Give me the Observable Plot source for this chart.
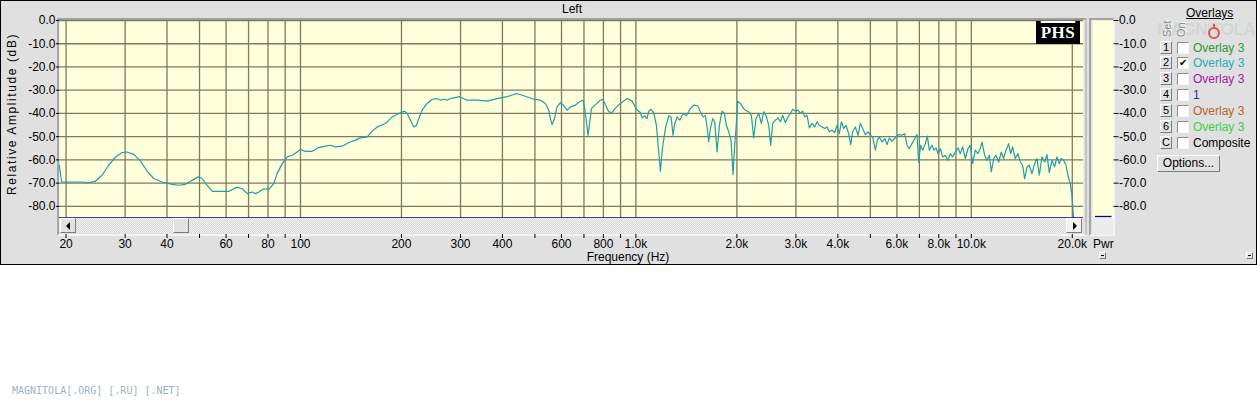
<!DOCTYPE html>
<html><head><meta charset="utf-8">
<script src="https://cdn.jsdelivr.net/npm/d3@7"></script>
<script src="https://cdn.jsdelivr.net/npm/@observablehq/plot@0.6"></script>
<style>
body{margin:0;background:#fff;font-family:"Liberation Sans",Arial,sans-serif;}
#root{position:relative;width:1257px;height:400px;overflow:hidden;}
.abs{position:absolute;}
.raised{position:absolute;box-sizing:border-box;background:#e2e2e2;border:1px solid;border-color:#fff #7c7c7c #7c7c7c #fff;}
.sunken{position:absolute;box-sizing:border-box;background:#fff;border:1px solid;border-color:#8a8a8a #f4f4f4 #f4f4f4 #8a8a8a;}
.txt{position:absolute;font-size:12px;line-height:14px;white-space:nowrap;color:#000;}
</style></head><body><div id="root"></div>
<script>
// ---------- data ----------
const lowFreq = [19.1,19.4,22.1,23.4,24.5,25.6,26.8,28.1,29.4,30.4,31.9,33.4,34.9,36.5,38.7,41.4,43.4,45.4,47.5,49.6,50.9,52.7,54.6,61.2,64.8,67.0,69.4,71.8,73.4,75.1,77.7,80.4,83.2,85.2,88.2,91.3,94.5,97.8,100,103.5,108.4,113.4,118.7,122.9,127.2,133.2,139.4,145.9,151.0,158.1,163.6,169.4,179.3,187.7,196.4];
const lowDb = [-62.3,-69.5,-69.5,-69.8,-69.1,-66.6,-62.3,-58.7,-56.8,-56.6,-57.7,-60.6,-64.9,-68.0,-69.5,-70.5,-70.9,-70.5,-68.8,-67.3,-68.0,-70.9,-73.5,-73.5,-71.7,-72.4,-74.5,-73.8,-74.5,-73.8,-72.4,-72.7,-70.2,-65.9,-61.6,-58.7,-58.0,-56.6,-55.5,-56.3,-56.3,-54.7,-54.1,-53.7,-54.4,-54.1,-52.5,-51.5,-50.5,-50.1,-47.6,-45.8,-44.3,-41.5,-40.0];

const midFreq = [204.2,208.0,212.8,217.7,221.7,225.3,230.5,238.5,246.9,255.5,261.4,267.4,273.6,279.9,298.5,313.9,336.2,360.1,385.7,413.1,440.4,463.1,496.1,519.3,537.4,549.8,556.2,562.6,571.7,582.2,595.7,609.5,623.6,638.0,660.3,683.3,695.9,703.9,712.0,720.2,728.5,736.9,757.4,783.9,798.4,811.3,830.0,849.2,868.9,899.2,941.3,974.2,1003.4,1031.4,1043.2,1060.1,1079.6,1092.0,1109.6,1130.1,1151.0,1169.6,1183.0,1199.4,1224.4,1252.7,1272.9,1290.5,1302.4,1326.4,1350.9,1382.2,1414.2,1453.5,1487.2,1528.6,1556.8,1585.6,1611.2,1629.7,1648.5,1667.4,1694.3,1717.7,1745.4,1773.6,1806.3,1835.5,1860.9,1890.9,1921.4,1948.0,1970.4,1988.5,2011.4,2048.6,2096.0];
const midDb = [-39.0,-40.0,-42.9,-45.8,-45.1,-42.2,-38.6,-35.7,-33.9,-33.6,-34.3,-33.9,-34.3,-33.6,-32.8,-34.3,-34.3,-34.7,-33.6,-32.8,-31.4,-32.4,-33.9,-34.3,-35.7,-38.6,-42.2,-44.8,-42.2,-37.2,-35.3,-36.7,-38.6,-37.2,-36.4,-34.7,-34.3,-37.9,-43.6,-49.4,-43.6,-37.9,-36.2,-34.3,-33.9,-36.4,-39.3,-39.6,-37.6,-35.7,-33.6,-34.7,-38.2,-39.6,-41.9,-41.0,-42.2,-39.0,-38.2,-39.6,-45.1,-56.6,-64.9,-55.1,-46.5,-41.0,-41.5,-49.4,-45.1,-41.5,-42.9,-40.0,-41.0,-37.9,-36.4,-36.7,-39.3,-41.5,-41.0,-45.8,-52.2,-46.5,-42.2,-43.6,-56.6,-45.1,-39.0,-40.0,-45.1,-47.9,-51.5,-66.3,-53.7,-46.5,-34.7,-35.7,-37.9];

const highFreq = [2120,2169,2209,2245,2281,2324,2366,2405,2443,2489,2523,2558,2605,2653,2696,2740,2790,2842,2888,2934,2988,3044,3093,3143,3186,3237,3290,3351,3412,3467,3523,3589,3655,3714,3774,3843,3914,3978,4042,4098,4164,4231,4309,4369,4429,4511,4594,4668,4744,4831,4921,5000,5081,5175,5246,5319,5417,5517,5606,5696,5802,5909,6004,6101,6214,6329,6431,6535,6655,6778,6888,6967,7063,7161,7293,7394,7496,7634,7740,7847,7955,8084,8214,8366,8520,8658,8798,8960,9126,9273,9423,9597,9774,9932,10092,10278,10468,10637,10760,10958,11135,11315,11471,11657,11845,12064,12286,12485,12686,12921,13099,13280,13526,13775,13998,14224,14420,14653,14890,15165,15445,15694,15947,16242,16542,16809,17080,17396,17717,18003,18293,18546,18846,19150,19415,19728,19955,20185];
const highDb = [-38.6,-39.3,-40.8,-50.5,-42.2,-40.0,-44.3,-39.3,-40.8,-45.1,-53.7,-44.3,-42.9,-41.9,-43.6,-40.8,-43.9,-41.5,-40.0,-38.2,-39.0,-38.6,-40.0,-39.0,-41.5,-40.8,-46.2,-44.3,-45.8,-43.6,-45.1,-45.8,-46.5,-45.8,-47.9,-47.2,-48.2,-45.1,-48.7,-43.6,-46.5,-45.1,-48.7,-53.4,-47.9,-45.8,-49.4,-44.3,-46.5,-49.1,-47.9,-49.4,-50.1,-55.8,-51.5,-50.1,-52.3,-50.8,-53.4,-50.5,-52.0,-50.8,-49.4,-49.1,-49.4,-48.7,-53.7,-55.1,-53.0,-50.8,-49.1,-60.9,-53.7,-55.8,-53.0,-49.7,-55.8,-53.7,-55.8,-54.8,-57.3,-55.1,-58.7,-58.0,-60.2,-57.3,-58.7,-56.6,-54.8,-57.3,-54.4,-59.4,-55.1,-53.7,-61.6,-55.8,-57.3,-55.1,-52.3,-58.0,-60.2,-58.0,-65.2,-59.4,-58.0,-60.9,-56.6,-59.4,-55.8,-53.0,-57.3,-54.4,-59.4,-57.3,-60.9,-62.3,-68.1,-63.0,-62.3,-65.9,-61.6,-59.4,-66.6,-58.7,-60.9,-57.7,-65.5,-60.2,-63.0,-58.7,-61.6,-59.4,-60.2,-62.3,-66.6,-70.2,-75.3,-85.0];

const gridFreqs = [20,30,40,50,60,70,80,90,100,200,300,400,500,600,700,800,900,1000,2000,3000,4000,5000,6000,7000,8000,9000,10000,20000];
const xLabelFreqs = [20,30,40,60,80,100,200,300,400,600,800,1000,2000,3000,4000,6000,8000,10000,20000];
const xLabelText = ["20","30","40","60","80","100","200","300","400","600","800","1.0k","2.0k","3.0k","4.0k","6.0k","8.0k","10.0k","20.0k"];
const yTicks = [0,-10,-20,-30,-40,-50,-60,-70,-80];

const overlaySets = ["1","2","3","4","5","6","C"];
const overlayNames = ["Overlay 3","Overlay 3","Overlay 3","1","Overlay 3","Overlay 3","Composite"];
const overlayColors = ["#2f9a35","#27aebb","#a01aa6","#2131a4","#b8642c","#3fcf46","#000000"];
const overlayOn = [false,true,false,false,false,false,false];

// ---------- build ----------
const freqs = [...lowFreq, ...midFreq, ...highFreq];
const dbs = [...lowDb, ...midDb, ...highDb];
const spectrum = freqs.map((f, i) => ({f, db: dbs[i]}));
const xLabels = xLabelFreqs.map((f, i) => ({f, label: xLabelText[i]}));

const YELLOW = "#ffffdc", GRID = "#7b7b63", LINE = "#1f9fa6", NAVY = "#000080";
const FONT = "'Liberation Sans', Arial, sans-serif";

const root = document.getElementById("root");
function add(html){ root.insertAdjacentHTML("beforeend", html); }

// window background
add(`<div class="abs" style="left:0;top:0;width:1257px;height:265px;box-sizing:border-box;border:1px solid #000;background:#e0e0e0"></div>`);
// sunken frame around plot + scrollbar
add(`<div class="abs" style="left:57px;top:18px;width:1030px;height:218px;box-sizing:border-box;border:2px solid;border-color:#a4a4a4 #c4c4c4 #f4f4f4 #a4a4a4"></div>`);
// frame for Pwr panel
add(`<div class="abs" style="left:1089px;top:18px;width:26px;height:218px;box-sizing:border-box;border:2px solid;border-color:#a4a4a4 #f4f4f4 #f4f4f4 #a4a4a4"></div>`);

const main = Plot.plot({
  width: 1257, height: 264,
  marginLeft: 59, marginRight: 174, marginTop: 20, marginBottom: 46.5,
  x: {type: "log", domain: [19.12, 21600], label: null},
  y: {domain: [-85, 0], label: null},
  style: {background: "transparent", fontFamily: FONT, fontSize: "12px", color: "#000", overflow: "visible"},
  marks: [
    Plot.frame({fill: YELLOW, stroke: null}),
    Plot.gridX({ticks: gridFreqs, stroke: GRID, strokeOpacity: 1, strokeWidth: 1.3}),
    Plot.gridY({ticks: yTicks, stroke: GRID, strokeOpacity: 1, strokeWidth: 1.3}),
    Plot.line(spectrum, {x: "f", y: "db", stroke: LINE, strokeWidth: 1.2}),
    Plot.ruleY([-85], {stroke: NAVY, strokeWidth: 1.3}),
    Plot.axisY({ticks: yTicks, tickSize: 3, tickPadding: 1, tickFormat: d => d.toFixed(1), label: null}),
    Plot.axisX({ticks: gridFreqs, tickSize: 4, tickPadding: 0, tickFormat: () => "", dy: 16.5, label: null}),
    Plot.text(xLabels, {x: "f", text: "label", frameAnchor: "bottom", lineAnchor: "top", dy: 21.5, fill: "#000", fontSize: 12})
  ]
});
main.style.position = "absolute"; main.style.left = "0px"; main.style.top = "0px";
root.appendChild(main);

// Pwr meter panel
const pwr = Plot.plot({
  width: 75, height: 264,
  marginLeft: 0, marginRight: 54.5, marginTop: 20, marginBottom: 46.5,
  y: {domain: [-85, 0], label: null},
  style: {background: "transparent", fontFamily: FONT, fontSize: "12px", color: "#000", overflow: "visible"},
  marks: [
    Plot.frame({fill: YELLOW, stroke: null}),
    Plot.ruleY([-85], {stroke: NAVY, strokeWidth: 1.3, insetLeft: 3, insetRight: 1, dy: -1.5}),
    Plot.axisY({anchor: "right", ticks: yTicks, tickSize: 5, tickPadding: 1, tickFormat: d => d.toFixed(1), label: null})
  ]
});
pwr.style.position = "absolute"; pwr.style.left = "1092px"; pwr.style.top = "0px";
root.appendChild(pwr);
add(`<div class="abs" style="left:1092px;top:218px;width:20.5px;height:17px;background:#ececec"></div>`);
add(`<div class="txt" style="left:1093px;top:237px">Pwr</div>`);

// scrollbar
add(`<div class="abs" style="left:59px;top:218px;width:1024px;height:15px;background:repeating-conic-gradient(#f4f4f4 0 25%, #d6d6d6 0 50%) 0 0/2px 2px"></div>`);
add(`<div class="raised" style="left:60px;top:218px;width:16px;height:15px"><div class="abs" style="left:5px;top:3px;width:0;height:0;border-top:4px solid transparent;border-bottom:4px solid transparent;border-right:4px solid #000"></div></div>`);
add(`<div class="raised" style="left:173px;top:218px;width:16px;height:15px"></div>`);
add(`<div class="raised" style="left:1066px;top:218px;width:16px;height:15px;background:#f2f2f2"><div class="abs" style="left:6px;top:3px;width:0;height:0;border-top:4px solid transparent;border-bottom:4px solid transparent;border-left:4px solid #000"></div></div>`);

// titles
add(`<div class="txt" style="left:0;top:2px;width:1144px;text-align:center">Left</div>`);
add(`<div class="txt" style="left:528px;top:251.8px;width:200px;text-align:center;line-height:11px">Frequency (Hz)</div>`);
add(`<div class="txt" style="left:12px;top:114px;letter-spacing:1.6px;transform:translate(-50%,-50%) rotate(-90deg)">Relative Amplitude (dB)</div>`);

// PHS badge
add(`<div class="abs" style="left:1036px;top:21px;width:44px;height:23px;background:#000;color:#fff;font:bold 17px 'Liberation Serif','DejaVu Serif',serif;line-height:23px;text-align:center;letter-spacing:0.5px"><span style="text-decoration:overline;text-decoration-thickness:2px">PHS</span></div>`);

// overlays panel
add(`<div class="txt" style="left:1186px;top:6px;text-decoration:underline">Overlays</div>`);
add(`<div class="abs" style="left:1157px;top:20px;font:bold 17px 'Liberation Sans',Arial;color:rgba(120,170,130,0.16);letter-spacing:-0.5px">MAGNITOLA</div>`);
add(`<div class="abs" style="left:1208px;top:27px;width:12px;height:12px;box-sizing:border-box;border:2.5px solid #e25050;border-radius:50%"></div>`);
add(`<div class="abs" style="left:1213px;top:24px;width:2px;height:5px;background:#e25050"></div>`);
add(`<div class="abs" style="left:1161px;top:37px;font-size:11px;line-height:12px;color:#8c8c8c;text-shadow:1px 1px 0 #fff;transform:rotate(-90deg);transform-origin:left top">Set</div>`);
add(`<div class="abs" style="left:1175px;top:37px;font-size:11px;line-height:12px;color:#8c8c8c;text-shadow:1px 1px 0 #fff;transform:rotate(-90deg);transform-origin:left top">On</div>`);
overlaySets.forEach((s, i) => {
  const c = 47.5 + 15.85 * i;
  add(`<div class="raised" style="left:1160px;top:${c - 7}px;width:12px;height:13px;font-size:11px;line-height:11px;text-align:center">${s}</div>`);
  add(`<div class="sunken" style="left:1177px;top:${c - 6}px;width:12px;height:12px;font-size:10px;line-height:10px;text-align:center">${overlayOn[i] ? "✔" : ""}</div>`);
  add(`<div class="txt" style="left:1193px;top:${c - 7}px;color:${overlayColors[i]}">${overlayNames[i]}</div>`);
});
add(`<div class="raised" style="left:1157px;top:155px;width:63px;height:17px;font-size:12px;line-height:15px;text-align:center">Options...</div>`);

// tiny buttons at bottom
add(`<div class="raised" style="left:1099px;top:252px;width:7px;height:7px"><div class="abs" style="left:1px;top:2px;width:3px;height:1px;background:#000"></div></div>`);
add(`<div class="raised" style="left:1246px;top:252px;width:7px;height:7px"><div class="abs" style="left:1px;top:2px;width:3px;height:1px;background:#000"></div></div>`);

// site watermark
add(`<div class="abs" style="left:12px;top:385px;font:10px 'DejaVu Sans Mono',monospace;line-height:12px;color:#9db1c6;white-space:nowrap">MAGNITOLA[.ORG] [.RU] [.NET]</div>`);
</script></body></html>
